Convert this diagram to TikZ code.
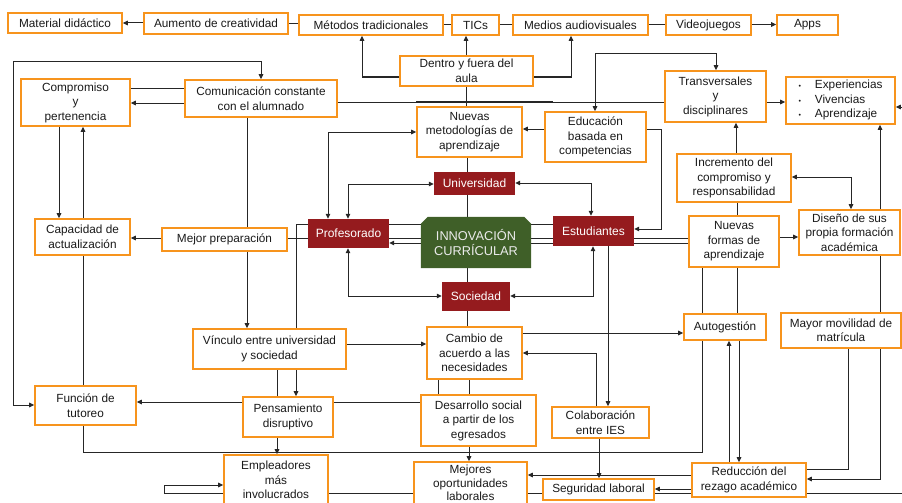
\documentclass[tikz,border=0pt]{standalone}
\usepackage{fontspec}
\setmainfont{Liberation Sans}
\usetikzlibrary{arrows.meta}
\definecolor{orng}{HTML}{F7941D}
\definecolor{dred}{HTML}{951B1E}
\definecolor{igreen}{HTML}{3F5F28}
\definecolor{txt}{HTML}{1A1A1A}
\pgfdeclarelayer{lines}
\pgfdeclarelayer{greenlayer}
\pgfsetlayers{lines,greenlayer,main}
\begin{document}
\begin{tikzpicture}[x=1pt,y=-1pt,
  font=\fontsize{11.8}{14.5}\selectfont,
  obox/.style={draw=orng, line width=1.6pt, fill=white, inner sep=0pt, align=center, text=txt},
  rbox/.style={fill=dred, inner sep=0pt, text=white, align=center, font=\fontsize{12}{14.5}\selectfont},
  ln/.style={line width=1pt, draw=black!85},
  arr/.style={ln, -{Triangle[length=5pt,width=4.5pt]}},
  arrb/.style={ln, {Triangle[length=5pt,width=4.5pt]}-{Triangle[length=5pt,width=4.5pt]}},
]
\useasboundingbox (0,0) rectangle (902,503);

% top row
\node[obox, minimum width=114pt, minimum height=20pt] (mat) at (65,23) {Material didáctico};
\node[obox, minimum width=144pt, minimum height=21pt] (aum) at (216,23.5) {Aumento de creatividad};
\node[obox, minimum width=144pt, minimum height=20pt] (met) at (371,25) {Métodos tradicionales};
\node[obox, minimum width=47pt, minimum height=20pt] (tics) at (475.5,25) {TICs};
\node[obox, minimum width=135pt, minimum height=20pt] (med) at (580.5,25) {Medios audiovisuales};
\node[obox, minimum width=85pt, minimum height=20pt] (vid) at (708.5,25) {Videojuegos};
\node[obox, minimum width=61pt, minimum height=20pt] (apps) at (807.5,25) {Apps};

\node[obox, minimum width=133pt, minimum height=30pt] (dent) at (466.5,71) {Dentro y fuera del\\aula};
\node[obox, minimum width=152pt, minimum height=37pt] (com) at (261,98.5) {Comunicación constante\\con el alumnado};
\node[obox, minimum width=109pt, minimum height=47pt] (comp) at (75.5,102.5) {Compromiso\\y\\pertenencia};
\node[obox, minimum width=105pt, minimum height=50pt] (nmet) at (469.5,132) {Nuevas\\metodologías de\\aprendizaje};
\node[obox, minimum width=101pt, minimum height=50pt] (edu) at (595.5,137) {Educación\\basada en\\competencias};
\node[obox, minimum width=101pt, minimum height=51pt] (trans) at (715.5,96.5) {Transversales\\y\\disciplinares};
\node[obox, minimum width=109pt, minimum height=47pt] (exp) at (840.5,100.5)
  {\begin{tabular}{@{}l@{\hspace{14pt}}l@{}}{\scriptsize\textbullet}&Experiencias\\{\scriptsize\textbullet}&Vivencias\\{\scriptsize\textbullet}&Aprendizaje\end{tabular}};
\node[obox, minimum width=114pt, minimum height=48pt] (inc) at (734,178) {Incremento del\\compromiso y\\responsabilidad};
\node[obox, minimum width=101pt, minimum height=45pt] (dis) at (849.5,232.5) {Diseño de sus\\propia formación\\académica};
\node[obox, minimum width=90pt, minimum height=51pt] (nfor) at (734,241.5) {Nuevas\\formas de\\aprendizaje};

% center
\node[rbox, minimum width=81pt, minimum height=23pt] (univ) at (474.5,183.5) {Universidad};
\node[rbox, minimum width=81pt, minimum height=29pt] (prof) at (348.5,233.5) {Profesorado};
\node[inner sep=0pt, minimum width=110pt, minimum height=51pt, align=center, text=white!92!black,
  font=\fontsize{12.8}{15.5}\selectfont] (inn) at (476,242.5) {INNOVACIÓN\\CURRÍCULAR};
\node[rbox, minimum width=81pt, minimum height=30pt] (est) at (593.5,231) {Estudiantes};
\node[rbox, minimum width=68pt, minimum height=29pt] (soc) at (476,296.5) {Sociedad};

\node[obox, minimum width=95pt, minimum height=36pt] (cap) at (82.5,237) {Capacidad de\\actualización};
\node[obox, minimum width=125pt, minimum height=23pt] (mej) at (224.5,239.5) {Mejor preparación};
\node[obox, minimum width=153pt, minimum height=40pt] (vin) at (269.5,349) {Vínculo entre universidad\\y sociedad};
\node[obox, minimum width=90pt, minimum height=40pt] (pen) at (288,417) {Pensamiento\\disruptivo};
\node[obox, minimum width=104pt, minimum height=50pt] (emp) at (276,480) {Empleadores\\más\\involucrados};
\node[obox, minimum width=101pt, minimum height=39pt] (fun) at (85.5,405.5) {Función de\\tutoreo};
\node[obox, minimum width=95pt, minimum height=52pt] (cam) at (474.5,353) {Cambio de\\acuerdo a las\\necesidades};
\node[obox, minimum width=115pt, minimum height=51pt] (des) at (478.5,420.5) {Desarrollo social\\a partir de los\\egresados};
\node[obox, minimum width=113pt, minimum height=42pt, font=\fontsize{11.8}{13.6}\selectfont] (mejo) at (470.5,483) {Mejores\\oportunidades\\laborales};
\node[obox, minimum width=97pt, minimum height=31pt] (col) at (600.5,422.5) {Colaboración\\entre IES};
\node[obox, minimum width=111pt, minimum height=21pt] (seg) at (598.5,489.5) {Seguridad laboral};
\node[obox, minimum width=114pt, minimum height=34pt] (red) at (749,480) {Reducción del\\rezago académico};
\node[obox, minimum width=82pt, minimum height=26pt] (aut) at (725,327) {Autogestión};
\node[obox, minimum width=120pt, minimum height=35pt] (may) at (841,330.5) {Mayor movilidad de\\matrícula};

\begin{pgfonlayer}{greenlayer}
\fill[igreen] (inn.south west) -- (inn.south east) -- ([yshift=-7pt]inn.north east)
  -- ([xshift=-7pt]inn.north east) -- ([xshift=7pt]inn.north west) -- ([yshift=-7pt]inn.north west) -- cycle;
\end{pgfonlayer}

\begin{pgfonlayer}{lines}
% top row
\draw[arr] (aum.west |- 0,23) -- (mat.east |- 0,23);
\draw[ln] (aum.east |- 0,24) -- (met.west |- 0,24);
\draw[ln] (met.east |- 0,25) -- (tics.west |- 0,25);
\draw[ln] (tics.east |- 0,24.5) -- (med.west |- 0,24.5);
\draw[ln] (med.east |- 0,24.5) -- (vid.west |- 0,24.5);
\draw[arr] (vid.east |- 0,24.5) -- (apps.west |- 0,24.5);
% dentro y fuera
\draw[arr] (dent.west |- 0,77) -| (met.south -| 362,0);
\draw[arr] (dent.north -| 466,0) -- (tics.south -| 466,0);
\draw[arr] (dent.east |- 0,77) -| (med.south -| 571,0);
\draw[ln] (dent.south -| 466,0) -- (nmet.north -| 466,0);
% comunicacion - transversales
\draw[ln] (com.east |- 0,102) -- (trans.west |- 0,102);
\draw[ln] (nmet.north west |- 0,101) -- ++(137,0);
\draw[arr] (trans.east |- 0,102) -- (exp.west |- 0,102);
% educacion
\draw[arr] (edu.west |- 0,129) -- (nmet.east |- 0,129);
\draw[arrb] (edu.north -| 595,0) -- (595,54) -| (trans.north -| 716,0);
\draw[arr] (edu.east |- 0,129) -- (661,129) |- (est.east |- 0,229);
% profesorado - nuevas metodologias
\draw[arrb] (prof.north -| 328,0) |- (nmet.west |- 0,132);
\draw[ln] (nmet.south -| 467,0) -- (cam.north -| 467,0);
% comunicacion
\draw[arrb] (fun.west |- 0,405) -- (13,405) -- (13,62) -| (com.north -| 261,0);
\draw[ln] (com.west |- 0,88) -- (comp.east |- 0,88);
\draw[arr] (com.west |- 0,103) -- (comp.east |- 0,103);
\draw[ln] (com.south -| 247,0) -- (mej.north -| 247,0);
\draw[arr] (mej.south -| 247,0) -- (vin.north -| 247,0);
% compromiso / capacidad
\draw[arr] (comp.south -| 59,0) -- (cap.north -| 59,0);
\draw[arr] (cap.north -| 83,0) -- (comp.south -| 83,0);
\draw[ln] (fun.north -| 83,0) -- (cap.south -| 83,0);
\draw[arr] (mej.west |- 0,238) -- (cap.east |- 0,238);
% long horizontals through the centre
\draw[ln] (mej.east |- 0,238) -- (nfor.west |- 0,238);
\draw[arr] (nfor.west |- 0,243) -- (prof.east |- 0,243);
\draw[ln] (vin.north -| 296,0) |- (est.west |- 0,224);
% universidad / sociedad
\draw[arrb] (univ.west |- 0,184) -| (prof.north -| 348,0);
\draw[arrb] (univ.east |- 0,183) -| (est.north -| 591,0);
\draw[arrb] (soc.west |- 0,296) -| (prof.south -| 348,0);
\draw[arrb] (soc.east |- 0,296) -| (est.south -| 593,0);
% estudiantes / colaboracion / cambio
\draw[arr] (est.south -| 608,0) -- (col.north -| 608,0);
\draw[arr] (vin.east |- 0,344) -- (cam.west |- 0,344);
\draw[arr] (cam.east |- 0,333) -- (aut.west |- 0,333);
\draw[arr] (col.north -| 596,0) |- (cam.east |- 0,353);
\draw[arr] (col.south -| 599,0) -- (seg.north -| 599,0);
\draw[ln] (cam.south -| 438,0) -- (des.north -| 438,0);
\draw[ln] (cam.south -| 469,0) -- (des.north -| 469,0);
% pensamiento / desarrollo
\draw[arr] (des.west |- 0,402) -- (fun.east |- 0,402);
\draw[ln] (vin.south -| 277,0) -- (pen.north -| 277,0);
\draw[arr] (vin.south -| 296,0) -- (pen.north -| 296,0);
\draw[arr] (pen.south -| 277,0) -- (emp.north -| 277,0);
\draw[arr] (des.south -| 469,0) -- (mejo.north -| 469,0);
% autogestion
\draw[ln] (aut.south -| 702,0) -- (702,452) -| (fun.south -| 83,0);
\draw[ln] (nfor.south -| 702,0) -- (aut.north -| 702,0);
\draw[ln] (nfor.south -| 737,0) -- (aut.north -| 737,0);
\draw[arr] (red.north -| 729,0) -- (aut.south -| 729,0);
\draw[arr] (aut.south -| 739,0) -- (red.north -| 739,0);
% right column
\draw[ln] (nfor.north -| 737,0) -- (inc.south -| 737,0);
\draw[arr] (inc.north -| 736,0) -- (trans.south -| 736,0);
\draw[arr] (nfor.east |- 0,237) -- (dis.west |- 0,237);
\draw[arrb] (inc.east |- 0,177) -| (dis.north -| 851,0);
\draw[arr] (dis.north -| 880,0) -- (exp.south -| 880,0);
\draw[ln] (dis.south -| 880,0) -- (may.north -| 880,0);
\draw[arr] (may.south -| 880,0) |- (red.east |- 0,479);
\draw[ln] (may.south -| 848,0) |- (red.east |- 0,469);
% reduccion
\draw[arr] (red.west |- 0,489) -- (seg.east |- 0,489);
\draw[arr] (red.west |- 0,475) -- (mejo.east |- 0,475);
% bottom long line
\draw[arr] (emp.east |- 0,493) -- (906,493) -- (906,107) -- (exp.east |- 0,107);
\draw[arr] (emp.west |- 0,493) -- (164,493) -- (164,485) -- (emp.west |- 0,485);
\end{pgfonlayer}
\end{tikzpicture}
\end{document}
